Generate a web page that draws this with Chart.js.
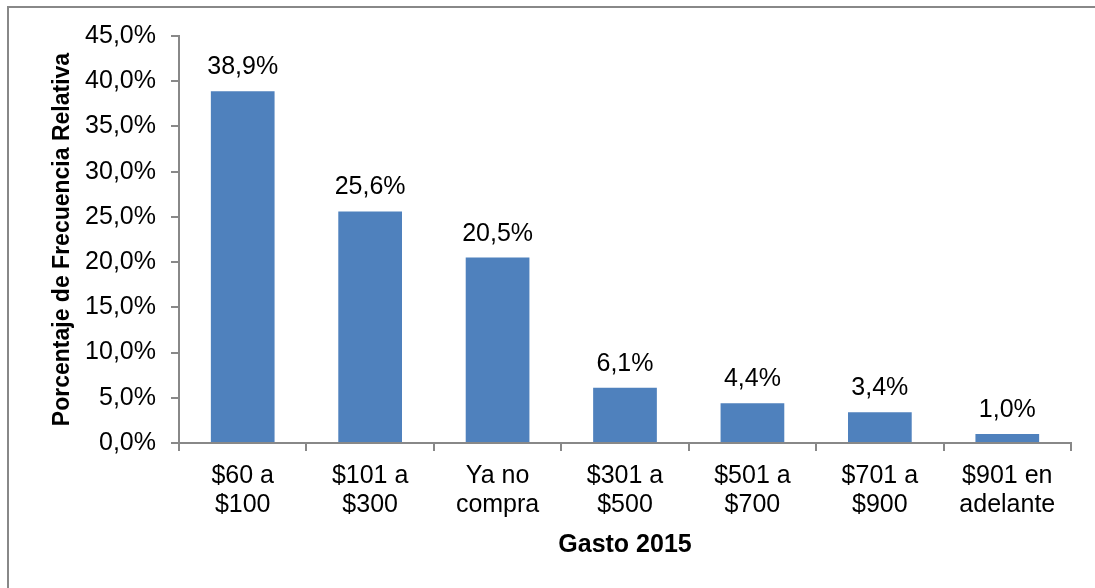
<!DOCTYPE html>
<html>
<head>
<meta charset="utf-8">
<script src="https://cdn.jsdelivr.net/npm/chart.js@4"></script>
<style>
  html, body { margin: 0; padding: 0; background: #fff; }
  #wrap { width: 1095px; height: 588px; }
</style>
</head>
<body>
<div id="wrap"><canvas id="grafico" width="1095" height="588"></canvas></div>
<script>
const categorias = [["$60 a", "$100"], ["$101 a", "$300"], ["Ya no", "compra"], ["$301 a", "$500"], ["$501 a", "$700"], ["$701 a", "$900"], ["$901 en", "adelante"]];
const porcentajes = [38.9, 25.6, 20.5, 6.1, 4.4, 3.4, 1.0];

const FUENTE = "'Liberation Sans', Arial, sans-serif";
const GRIS = "#888888";

const formato = (v) => v.toFixed(1).replace(".", ",") + "%";

// marco del gráfico (solo se ve arriba e izquierda)
const marco = {
  id: "marco",
  beforeDraw(chart) {
    const ctx = chart.ctx;
    ctx.save();
    ctx.strokeStyle = GRIS;
    ctx.lineWidth = 2;
    ctx.strokeRect(8, 7, 1100, 600);
    ctx.restore();
  },
};

// etiquetas de valor encima de las barras
const etiquetas = {
  id: "etiquetas",
  afterDatasetsDraw(chart) {
    const ctx = chart.ctx;
    ctx.save();
    ctx.font = "25px " + FUENTE;
    ctx.fillStyle = "#000";
    ctx.textAlign = "center";
    ctx.textBaseline = "alphabetic";
    chart.getDatasetMeta(0).data.forEach((barra, i) => {
      ctx.fillText(formato(porcentajes[i]), barra.x, barra.y - 17);
    });
    ctx.restore();
  },
};

const chart = new Chart(document.getElementById("grafico"), {
  type: "bar",
  data: {
    labels: categorias,
    datasets: [
      {
        data: porcentajes,
        backgroundColor: "#4F81BD",
        borderWidth: 0,
        barPercentage: 0.5,
        categoryPercentage: 1,
      },
    ],
  },
  options: {
    responsive: false,
    animation: false,
    events: [],
    layout: { padding: { left: 0, right: 24, top: 36, bottom: 0 } },
    plugins: {
      legend: { display: false },
      tooltip: { enabled: false },
    },
    scales: {
      x: {
        grid: {
          display: true,
          drawOnChartArea: false,
          drawTicks: true,
          tickLength: 8,
          color: GRIS,
          lineWidth: 2,
        },
        border: { display: true, color: GRIS, width: 2 },
        ticks: {
          color: "#000",
          font: { family: FUENTE, size: 25, lineHeight: 1.17 },
          padding: 10,
          maxRotation: 0,
          autoSkip: false,
        },
        title: {
          display: true,
          text: "Gasto 2015",
          color: "#000",
          font: { family: FUENTE, size: 25, weight: "bold" },
          padding: { top: 0, bottom: 28 },
        },
        afterFit(scale) {
          scale.height = 145;
        },
      },
      y: {
        min: 0,
        max: 45,
        ticks: {
          stepSize: 5,
          color: "#000",
          font: { family: FUENTE, size: 25 },
          padding: 15,
          callback: (v) => formato(v),
        },
        grid: {
          display: true,
          drawOnChartArea: false,
          drawTicks: true,
          tickLength: 8,
          color: GRIS,
          lineWidth: 2,
        },
        border: { display: true, color: GRIS, width: 2 },
        title: {
          display: true,
          text: "Porcentaje de Frecuencia Relativa",
          color: "#000",
          font: { family: FUENTE, size: 23, weight: "bold" },
          padding: { top: 49, bottom: 0 },
        },
        afterFit(scale) {
          scale.width = 179;
        },
      },
    },
  },
  plugins: [marco, etiquetas],
});
</script>
</body>
</html>
